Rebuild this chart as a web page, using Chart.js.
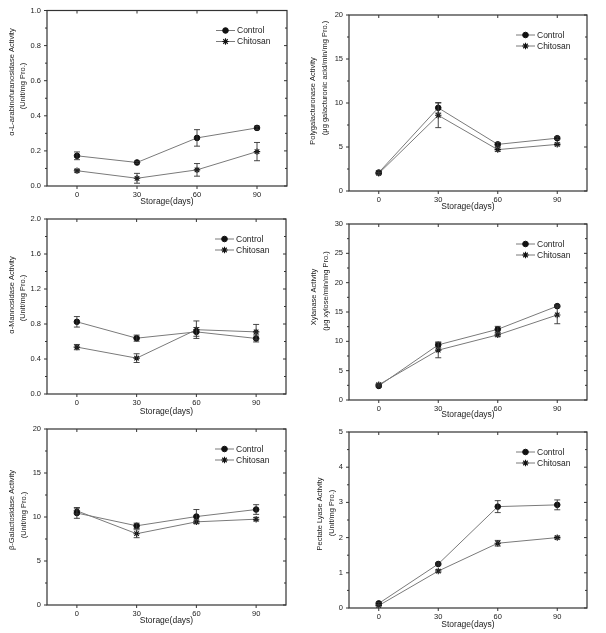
<!DOCTYPE html>
<html><head><meta charset="utf-8">
<script src="https://cdn.jsdelivr.net/npm/chart.js@4/dist/chart.umd.min.js"></script>
<style>
html,body{margin:0;padding:0;background:#fff;width:606px;height:633px;overflow:hidden;position:relative;}
canvas{position:absolute;}
</style></head><body>
<canvas id="c1"></canvas><canvas id="c2"></canvas><canvas id="c3"></canvas>
<canvas id="c4"></canvas><canvas id="c5"></canvas><canvas id="c6"></canvas>
<script>
// ---------- DATA ----------
const days = [0, 30, 60, 90];
const seriesNames = ['Control', 'Chitosan'];
const xTickLabels = ['0', '30', '60', '90'];

// α-L-arabinofuranosidase
const arabTicks = [0, 0.2, 0.4, 0.6, 0.8, 1.0];
const arabTickLabels = ['0.0', '0.2', '0.4', '0.6', '0.8', '1.0'];
const arabControl = [0.172, 0.134, 0.274, 0.331];
const arabControlErr = [0.022, 0.006, 0.047, 0.010];
const arabChitosan = [0.087, 0.044, 0.092, 0.196];
const arabChitosanErr = [0.007, 0.028, 0.036, 0.052];

// Polygalacturonase
const pgTicks = [0, 5, 10, 15, 20];
const pgTickLabels = ['0', '5', '10', '15', '20'];
const pgControl = [2.1, 9.45, 5.3, 6.0];
const pgControlErr = [0.2, 0.6, 0.2, 0.15];
const pgChitosan = [2.0, 8.6, 4.7, 5.3];
const pgChitosanErr = [0.1, 1.4, 0.2, 0.15];

// α-Mannosidase
const manTicks = [0, 0.4, 0.8, 1.2, 1.6, 2.0];
const manTickLabels = ['0.0', '0.4', '0.8', '1.2', '1.6', '2.0'];
const manControl = [0.825, 0.638, 0.71, 0.635];
const manControlErr = [0.06, 0.035, 0.05, 0.04];
const manChitosan = [0.536, 0.41, 0.735, 0.71];
const manChitosanErr = [0.03, 0.05, 0.1, 0.085];

// Xylanase
const xylTicks = [0, 5, 10, 15, 20, 25, 30];
const xylTickLabels = ['0', '5', '10', '15', '20', '25', '30'];
const xylControl = [2.4, 9.4, 12.05, 16.0];
const xylControlErr = [0.2, 0.5, 0.5, 0.2];
const xylChitosan = [2.6, 8.5, 11.1, 14.5];
const xylChitosanErr = [0.2, 1.3, 0.3, 1.5];

// β-Galactosidase
const galTicks = [0, 5, 10, 15, 20];
const galTickLabels = ['0', '5', '10', '15', '20'];
const galControl = [10.45, 9.0, 10.05, 10.85];
const galControlErr = [0.6, 0.3, 0.8, 0.55];
const galChitosan = [10.7, 8.1, 9.45, 9.75];
const galChitosanErr = [0.35, 0.45, 0.2, 0.2];

// Pectate lyase
const plTicks = [0, 1, 2, 3, 4, 5];
const plTickLabels = ['0', '1', '2', '3', '4', '5'];
const plControl = [0.13, 1.25, 2.88, 2.93];
const plControlErr = [0.03, 0.03, 0.17, 0.14];
const plChitosan = [0.07, 1.05, 1.84, 2.0];
const plChitosanErr = [0.02, 0.04, 0.08, 0.04];

// ---------- LAYOUT / STYLE ----------
const FONT = '"Liberation Sans", Arial, Helvetica, sans-serif';
const TEXT = '#222';
const LINE = '#7a7a7a';
const MARK = '#111';
const FRAME = '#333';

// titlePos: [x, centerY] of each y-title line, in page pixels
const panels = [
  {id:'c1', box:[0,0,300,207], area:[47,10,287,186], xPad:0,
   yTitle:['α-L-arabinofuranosidase Activity','(Unit/mg Pro.)'], titlePos:[[12,82],[23,86]],
   ticks:arabTicks, labels:arabTickLabels,
   c:arabControl, ce:arabControlErr, h:arabChitosan, he:arabChitosanErr},
  {id:'c2', box:[300,0,306,212], area:[349,15,587,191], xPad:0,
   yTitle:['Polygalacturonase Activity','(μg galacturonic acid/min/mg Pro.)'], titlePos:[[313,101],[325,78]],
   ticks:pgTicks, labels:pgTickLabels,
   c:pgControl, ce:pgControlErr, h:pgChitosan, he:pgChitosanErr},
  {id:'c3', box:[0,207,300,210], area:[47,219,286,394], xPad:0,
   yTitle:['α-Mannosidase Activity','(Unit/mg Pro.)'], titlePos:[[12,295],[23,298]],
   ticks:manTicks, labels:manTickLabels,
   c:manControl, ce:manControlErr, h:manChitosan, he:manChitosanErr},
  {id:'c4', box:[300,212,306,208], area:[349,224,587,400], xPad:0,
   yTitle:['Xylanase Activity','(μg xylose/min/mg Pro.)'], titlePos:[[314,297],[326,291]],
   ticks:xylTicks, labels:xylTickLabels,
   c:xylControl, ce:xylControlErr, h:xylChitosan, he:xylChitosanErr},
  {id:'c5', box:[0,417,300,216], area:[47,429,286,605], xPad:7,
   yTitle:['β-Galactosidase Activity','(Unit/mg Pro.)'], titlePos:[[12,510],[24,515]],
   ticks:galTicks, labels:galTickLabels,
   c:galControl, ce:galControlErr, h:galChitosan, he:galChitosanErr},
  {id:'c6', box:[300,420,306,213], area:[349,432,587,608], xPad:3,
   yTitle:['Pectate Lyase Activity','(Unit/mg Pro.)'], titlePos:[[320,514],[332,513]],
   ticks:plTicks, labels:plTickLabels,
   c:plControl, ce:plControlErr, h:plChitosan, he:plChitosanErr}
];

const styles = [
  {pointStyle:'circle', radius:2.8, borderWidth:1},
  {pointStyle:'star', radius:3.2, borderWidth:1.1}
];

const errorBars = {
  id:'errorBars',
  afterDatasetsDraw(chart) {
    const ctx = chart.ctx, ys = chart.scales.y;
    ctx.save();
    ctx.strokeStyle = '#333';
    ctx.lineWidth = 0.9;
    chart.data.datasets.forEach((ds, i) => {
      const meta = chart.getDatasetMeta(i);
      ds.errors.forEach((e, j) => {
        const x = meta.data[j].x;
        const v = ds.data[j].y;
        const t = ys.getPixelForValue(v + e), b = ys.getPixelForValue(v - e);
        ctx.beginPath();
        ctx.moveTo(x, t); ctx.lineTo(x, b);
        ctx.moveTo(x - 3, t); ctx.lineTo(x + 3, t);
        ctx.moveTo(x - 3, b); ctx.lineTo(x + 3, b);
        ctx.stroke();
      });
    });
    ctx.restore();
  }
};

const frameTicks = {
  id:'frameTicks',
  afterDraw(chart) {
    const ctx = chart.ctx, a = chart.chartArea;
    const xs = chart.scales.x, ys = chart.scales.y;
    const yt = chart.options.plugins.frameTicks.ticks;
    ctx.save();
    ctx.strokeStyle = FRAME;
    ctx.lineWidth = 1.2;
    ctx.strokeRect(a.left, a.top, a.right - a.left, a.bottom - a.top);
    ctx.lineWidth = 1;
    ctx.beginPath();
    for (let k = 0; k < yt.length; k++) {
      const p = ys.getPixelForValue(yt[k]);
      ctx.moveTo(a.left - 3, p); ctx.lineTo(a.left, p);
      ctx.moveTo(a.right, p); ctx.lineTo(a.right - 3, p);
      if (k < yt.length - 1) {
        const m = ys.getPixelForValue((yt[k] + yt[k + 1]) / 2);
        ctx.moveTo(a.left - 2, m); ctx.lineTo(a.left, m);
        ctx.moveTo(a.right, m); ctx.lineTo(a.right - 2, m);
      }
    }
    days.forEach(d => {
      const p = xs.getPixelForValue(d);
      ctx.moveTo(p, a.bottom); ctx.lineTo(p, a.bottom + 3);
      ctx.moveTo(p, a.top); ctx.lineTo(p, a.top + 3);
    });
    ctx.stroke();
    ctx.restore();
  }
};

const yTitles = {
  id:'yTitles',
  afterDraw(chart) {
    const o = chart.options.plugins.yTitles;
    const ctx = chart.ctx;
    ctx.save();
    ctx.fillStyle = TEXT;
    ctx.font = '7.5px ' + FONT;
    ctx.textAlign = 'center'; ctx.textBaseline = 'middle';
    o.text.forEach((t, i) => {
      const [px, py] = o.pos[i];
      ctx.save();
      ctx.translate(px - o.bx, py - o.by);
      ctx.rotate(-Math.PI / 2);
      ctx.fillText(t, 0, 0);
      ctx.restore();
    });
    ctx.restore();
  }
};

const insideLegend = {
  id:'insideLegend',
  afterDraw(chart) {
    const ctx = chart.ctx, a = chart.chartArea;
    ctx.save();
    chart.data.datasets.forEach((ds, i) => {
      const y = a.top + 20 + i * 11;
      const x0 = a.right - 71, x1 = a.right - 52;
      ctx.strokeStyle = LINE; ctx.lineWidth = 1;
      ctx.beginPath(); ctx.moveTo(x0, y); ctx.lineTo(x1, y); ctx.stroke();
      ctx.fillStyle = MARK; ctx.strokeStyle = MARK;
      ctx.lineWidth = styles[i].borderWidth;
      Chart.helpers.drawPoint(ctx, {pointStyle:styles[i].pointStyle, radius:styles[i].radius, borderWidth:styles[i].borderWidth, rotation:0}, (x0 + x1) / 2, y);
      ctx.fillStyle = TEXT;
      ctx.font = '8.5px ' + FONT;
      ctx.textAlign = 'left'; ctx.textBaseline = 'middle';
      ctx.fillText(ds.label, a.right - 50, y + 0.5);
    });
    ctx.restore();
  }
};

panels.forEach(p => {
  const cv = document.getElementById(p.id);
  const [bx, by, bw, bh] = p.box;
  const [al, at, ar, ab] = p.area;
  cv.width = bw; cv.height = bh;
  cv.style.left = bx + 'px'; cv.style.top = by + 'px';
  cv.style.width = bw + 'px'; cv.style.height = bh + 'px';
  const yW = al - bx, xH = (by + bh) - ab;
  const mk = (vals, errs, i) => ({
    label: seriesNames[i],
    data: days.map((d, j) => ({x: d, y: vals[j]})),
    errors: errs,
    borderColor: LINE, borderWidth: 1,
    pointStyle: styles[i].pointStyle, pointRadius: styles[i].radius,
    pointBorderWidth: styles[i].borderWidth,
    pointBackgroundColor: MARK, pointBorderColor: MARK,
    tension: 0, fill: false
  });
  new Chart(cv, {
    type: 'line',
    data: { datasets: [mk(p.c, p.ce, 0), mk(p.h, p.he, 1)] },
    options: {
      responsive: false, animation: false, devicePixelRatio: 1,
      layout: { padding: { left: 0, top: at - by, right: (bx + bw) - ar, bottom: 0 } },
      plugins: { legend: { display: false }, tooltip: { enabled: false },
        frameTicks: { ticks: p.ticks },
        yTitles: { text: p.yTitle, pos: p.titlePos, bx: bx, by: by } },
      scales: {
        x: {
          type: 'linear', min: -15, max: 105,
          afterBuildTicks: s => { s.ticks = days.map(v => ({value: v})); },
          afterFit: s => { s.height = xH; },
          grid: { display: false, drawTicks: false }, border: { display: false },
          ticks: { padding: 4, color: TEXT, font: { family: FONT, size: 7.5 },
            callback: (v, i) => xTickLabels[i] },
          title: { display: true, text: 'Storage(days)', color: TEXT,
            font: { family: FONT, size: 8.5, lineHeight: 1.2 },
            padding: { top: 0, bottom: p.xPad } }
        },
        y: {
          type: 'linear', min: p.ticks[0], max: p.ticks[p.ticks.length - 1],
          afterBuildTicks: s => { s.ticks = p.ticks.map(v => ({value: v})); },
          afterFit: s => { s.width = yW; },
          grid: { display: false, drawTicks: false }, border: { display: false },
          ticks: { padding: 6, color: TEXT, font: { family: FONT, size: 7.5 },
            callback: (v, i) => p.labels[i] },
          title: { display: false }
        }
      }
    },
    plugins: [errorBars, frameTicks, yTitles, insideLegend]
  });
});
</script>
</body></html>
